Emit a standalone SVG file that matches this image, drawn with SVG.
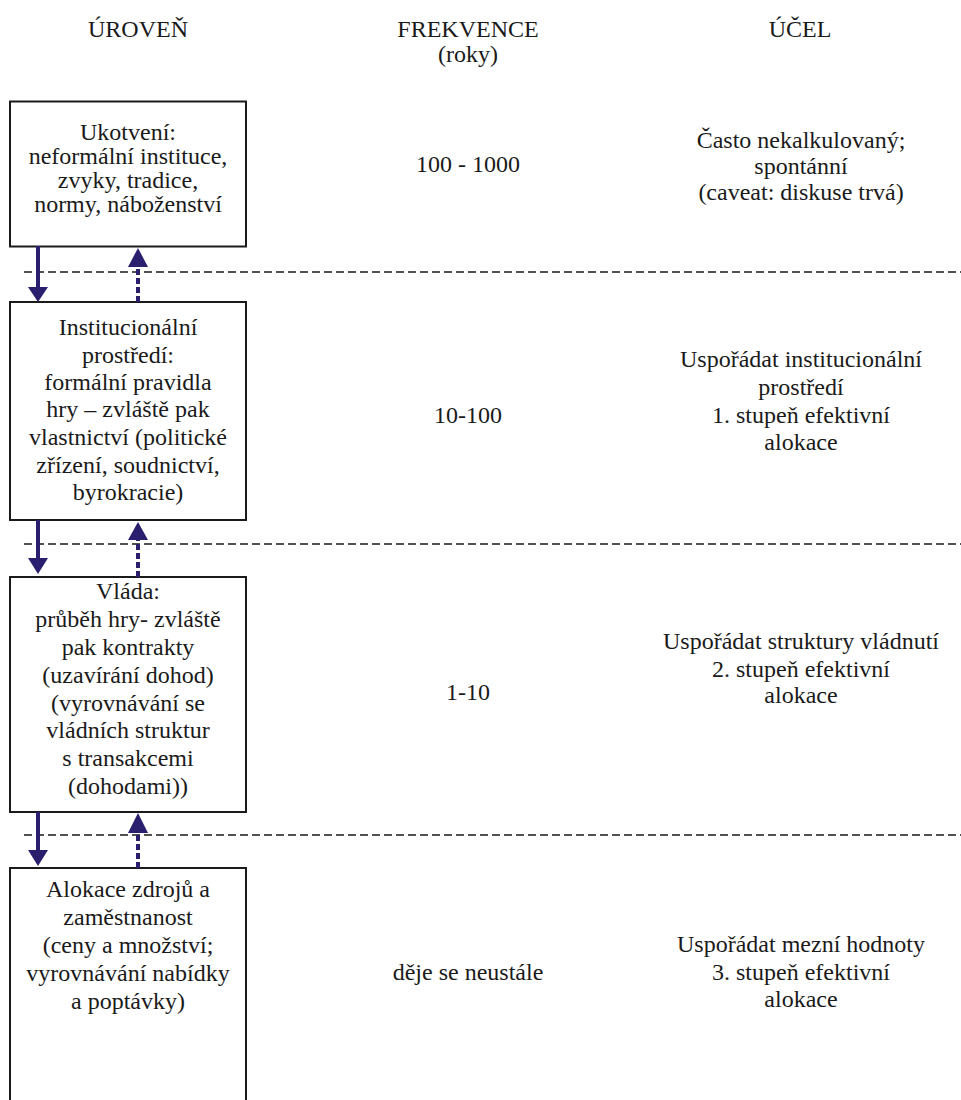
<svg xmlns="http://www.w3.org/2000/svg" width="961" height="1100" viewBox="0 0 961 1100">
<style>
text{font-size:24px;fill:#1a1a1a;text-anchor:middle}
.box{fill:#fff;stroke:#1a1a1a;stroke-width:2}
.sep{stroke:#1a1a1a;stroke-width:1.6;stroke-dasharray:8,4;fill:none}
.down{stroke:#2a1f6e;stroke-width:4;fill:none}
.up{stroke:#2a1f6e;stroke-width:4;stroke-dasharray:6,3;fill:none}
.head{fill:#2a1f6e}
</style>
<rect width="961" height="1100" fill="#fff"/>
<g font-family="Liberation Serif, Times New Roman, DejaVu Serif, serif">
<g id="headers">
<text x="138" y="37">ÚROVEŇ</text>
<text x="468" y="37">FREKVENCE</text>
<text x="468" y="62">(roky)</text>
<text x="800" y="37">ÚČEL</text>
</g>
<g id="separators">
<line class="sep" x1="24" y1="272" x2="961" y2="272"/>
<line class="sep" x1="24" y1="544" x2="961" y2="544"/>
<line class="sep" x1="24" y1="835" x2="961" y2="835"/>
</g>
<g id="node-ukotveni">
<rect class="box" x="10" y="101.5" width="236" height="145"/>
<text x="128" y="140">Ukotvení:</text>
<text x="128" y="164">neformální instituce,</text>
<text x="128" y="188">zvyky, tradice,</text>
<text x="128" y="212">normy, náboženství</text>
</g>
<g id="node-institucionalni">
<rect class="box" x="10" y="302" width="236" height="218"/>
<text x="128" y="335">Institucionální</text>
<text x="128" y="363">prostředí:</text>
<text x="128" y="390">formální pravidla</text>
<text x="128" y="417">hry – zvláště pak</text>
<text x="128" y="445">vlastnictví (politické</text>
<text x="128" y="473">zřízení, soudnictví,</text>
<text x="128" y="500">byrokracie)</text>
</g>
<g id="node-vlada">
<rect class="box" x="10" y="577" width="236" height="235"/>
<text x="128" y="599">Vláda:</text>
<text x="128" y="627">průběh hry- zvláště</text>
<text x="128" y="655">pak kontrakty</text>
<text x="128" y="683">(uzavírání dohod)</text>
<text x="128" y="711">(vyrovnávání se</text>
<text x="128" y="738">vládních struktur</text>
<text x="128" y="766">s transakcemi</text>
<text x="128" y="794">(dohodami))</text>
</g>
<g id="node-alokace">
<rect class="box" x="10" y="868" width="236" height="250"/>
<text x="128" y="897">Alokace zdrojů a</text>
<text x="128" y="925">zaměstnanost</text>
<text x="128" y="953">(ceny a množství;</text>
<text x="128" y="981">vyrovnávání nabídky</text>
<text x="128" y="1009">a poptávky)</text>
</g>
<g id="frekvence">
<text x="468" y="172">100 - 1000</text>
<text x="468" y="423">10-100</text>
<text x="468" y="700">1-10</text>
<text x="468" y="980">děje se neustále</text>
</g>
<g id="ucel">
<text x="801" y="148">Často nekalkulovaný;</text>
<text x="801" y="174">spontánní</text>
<text x="801" y="200">(caveat: diskuse trvá)</text>
<text x="801" y="367">Uspořádat institucionální</text>
<text x="801" y="395">prostředí</text>
<text x="801" y="423">1. stupeň efektivní</text>
<text x="801" y="450">alokace</text>
<text x="801" y="649">Uspořádat struktury vládnutí</text>
<text x="801" y="677">2. stupeň efektivní</text>
<text x="801" y="703">alokace</text>
<text x="801" y="952">Uspořádat mezní hodnoty</text>
<text x="801" y="980">3. stupeň efektivní</text>
<text x="801" y="1007">alokace</text>
</g>
</g>
<g id="connectors">
<line class="down" x1="38" y1="246" x2="38" y2="288"/>
<polygon class="head" points="28,287 48,287 38,302"/>
<line class="up" x1="138" y1="302" x2="138" y2="267"/>
<polygon class="head" points="128,267 148,267 138,248"/>
<line class="down" x1="38" y1="520" x2="38" y2="560"/>
<polygon class="head" points="28,558 48,558 38,574"/>
<line class="up" x1="138" y1="577" x2="138" y2="540"/>
<polygon class="head" points="128,540 148,540 138,522"/>
<line class="down" x1="38" y1="812" x2="38" y2="852"/>
<polygon class="head" points="28,850 48,850 38,866"/>
<line class="up" x1="138" y1="868" x2="138" y2="833"/>
<polygon class="head" points="128,833 148,833 138,813"/>
</g>
</svg>
